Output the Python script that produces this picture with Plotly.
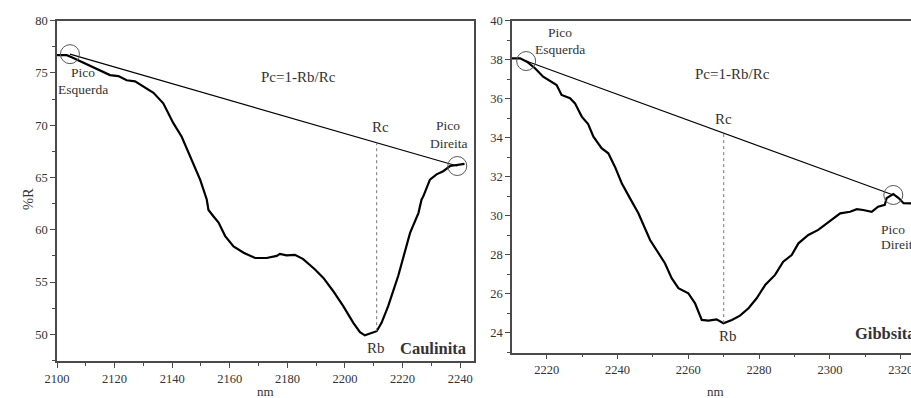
import numpy as np
import plotly.graph_objects as go

# ---------------- data: Caulinita (left panel) ----------------
caul_nm = [2100, 2103.4, 2105.1, 2109.1, 2114.9, 2118.4, 2121.3, 2124.2, 2127.1, 2130, 2133.5,
           2136.9, 2140.4, 2143.3, 2146.2, 2149.7, 2152, 2152.6, 2154.3, 2156.1, 2158.4, 2161.3,
           2164.8, 2168.8, 2172.8, 2176.3, 2177.4, 2179.7, 2182.6, 2185.5, 2189.6, 2192.5, 2196,
           2199.4, 2202.9, 2205.2, 2206.9, 2208.7, 2211, 2212.7, 2215, 2218.5, 2222.6, 2225.5,
           2226.6, 2227.2, 2229.5, 2231.8, 2234.1, 2236.5, 2238.8, 2241.5]
caul_r = [76.7, 76.7, 76.5, 76.0, 75.3, 74.8, 74.7, 74.3, 74.2, 73.7, 73.1,
          72.1, 70.2, 68.9, 67.0, 64.8, 62.9, 61.9, 61.3, 60.7, 59.4, 58.4,
          57.8, 57.3, 57.3, 57.5, 57.7, 57.55, 57.6, 57.2, 56.2, 55.4, 54.1,
          52.7, 51.1, 50.2, 49.9, 50.1, 50.3, 51.1, 52.7, 55.6, 59.7, 61.6,
          62.9, 63.2, 64.8, 65.3, 65.6, 66.1, 66.2, 66.3]
caul_peaks_nm = [2104.5, 2239.0]
caul_peaks_r = [76.8, 66.1]
caul_rc_nm = 2211.0

# ---------------- data: Gibbsita (right panel) ----------------
gibb_nm = [2210.1, 2212.5, 2214.4, 2216.7, 2219.0, 2221.4, 2222.8, 2224.2, 2226.6, 2228.0,
           2229.9, 2231.7, 2233.2, 2235.5, 2237.4, 2239.3, 2241.2, 2243.5, 2244.0, 2245.9,
           2249.2, 2253.4, 2255.3, 2257.2, 2260, 2261.9, 2263.8, 2265.7, 2268.0, 2269.9,
           2272.3, 2274.6, 2277.0, 2279.3, 2281.7, 2284.5, 2286.8, 2289.2, 2291.1, 2293.9,
           2296.7, 2299.6, 2302.9, 2305.7, 2307.6, 2309.4, 2311.8, 2313.6, 2315.5, 2316,
           2317.9, 2319.4, 2320.8, 2323.5]
gibb_r = [38.07, 38.07, 37.9, 37.56, 37.13, 36.87, 36.7, 36.19, 36.02, 35.76,
          35.08, 34.7, 34.05, 33.46, 33.2, 32.5, 31.66, 30.9, 30.72, 30.12,
          28.75, 27.56, 26.79, 26.28, 26.02, 25.5, 24.65, 24.62, 24.68, 24.48,
          24.65, 24.87, 25.25, 25.76, 26.44, 26.96, 27.64, 27.98, 28.58, 29.01,
          29.27, 29.69, 30.12, 30.2, 30.33, 30.29, 30.2, 30.46, 30.55, 30.9,
          31.11, 30.9, 30.64, 30.62]
gibb_peaks_nm = [2214.2, 2317.9]
gibb_peaks_r = [37.93, 31.06]
gibb_rc_nm = 2270.0

# tick values
caul_xticks = [2100, 2120, 2140, 2160, 2180, 2200, 2220, 2240]
caul_yticks = [50, 55, 60, 65, 70, 75, 80]
gibb_xticks = [2220, 2240, 2260, 2280, 2300, 2320]
gibb_yticks = [24, 26, 28, 30, 32, 34, 36, 38, 40]

FONT = "Liberation Serif"
W, H = 911, 398
AX = "#4a4a4a"
TXT = "#333333"

fig = go.Figure()


def add_panel(xa, ya, nm, r, pk_nm, pk_r, rc_nm):
    fig.add_trace(go.Scatter(x=nm, y=r, mode="lines", xaxis=xa, yaxis=ya,
                             line=dict(color="black", width=2.2), showlegend=False,
                             hoverinfo="skip"))
    fig.add_trace(go.Scatter(x=pk_nm, y=pk_r, mode="lines", xaxis=xa, yaxis=ya,
                             line=dict(color="black", width=1.1), showlegend=False,
                             hoverinfo="skip"))
    rc_top = float(np.interp(rc_nm, pk_nm, pk_r))
    rb = float(np.interp(rc_nm, nm, r))
    fig.add_trace(go.Scatter(x=[rc_nm, rc_nm], y=[rb, rc_top], mode="lines", xaxis=xa,
                             yaxis=ya, line=dict(color="#777777", width=1, dash="dot"),
                             showlegend=False, hoverinfo="skip"))
    fig.add_trace(go.Scatter(x=pk_nm, y=pk_r, mode="markers", xaxis=xa, yaxis=ya,
                             marker=dict(symbol="circle-open", size=19, color="#555555",
                                         line=dict(color="#555555", width=1)),
                             showlegend=False, hoverinfo="skip", cliponaxis=False))


add_panel("x", "y", caul_nm, caul_r, caul_peaks_nm, caul_peaks_r, caul_rc_nm)
add_panel("x2", "y2", gibb_nm, gibb_r, gibb_peaks_nm, gibb_peaks_r, gibb_rc_nm)

axis_common = dict(showline=True, linecolor=AX, linewidth=1.5, ticks="outside",
                   ticklen=5, tickwidth=1.3, tickcolor=AX, showgrid=False, zeroline=False,
                   automargin=False,
                   tickfont=dict(family=FONT, size=12.5, color=TXT),
                   minor=dict(ticks="outside", ticklen=3, tickwidth=1.1, tickcolor=AX))

fig.update_layout(
    width=W, height=H,
    margin=dict(l=0, r=0, t=0, b=0, autoexpand=False),
    paper_bgcolor="white", plot_bgcolor="white",
    showlegend=False,
    xaxis=dict(domain=[57 / W, 474 / W], range=[2100, 2244.8], tickvals=caul_xticks,
               mirror=True, anchor="y", **{**axis_common, "minor": dict(
                   axis_common["minor"], dtick=10, tick0=2100)}),
    yaxis=dict(domain=[1 - 361 / H, 1 - 20.7 / H], range=[47.45, 80], tickvals=caul_yticks,
               mirror=True, anchor="x", **{**axis_common, "minor": dict(
                   axis_common["minor"], dtick=2.5, tick0=50)}),
    xaxis2=dict(domain=[512 / W, 1.0], range=[2210.2, 2322.9], tickvals=gibb_xticks,
                mirror=True, anchor="y2", ticklabeloverflow="allow",
                **{**axis_common, "minor": dict(axis_common["minor"], dtick=10, tick0=2210)}),
    yaxis2=dict(domain=[1 - 352.7 / H, 1 - 20.7 / H], range=[22.97, 40],
                tickvals=gibb_yticks, mirror=False, anchor="x2",
                **{**axis_common, "minor": dict(axis_common["minor"], dtick=1, tick0=23)}),
)


def ann(text, px, py, size=14, bold=False, xanchor="center"):
    fig.add_annotation(text=f"<b>{text}</b>" if bold else text, x=px / W, y=1 - py / H,
                       xref="paper", yref="paper", showarrow=False,
                       font=dict(family=FONT, size=size, color=TXT),
                       xanchor=xanchor, yanchor="middle", align="center")


# left panel labels
ann("Pico", 83, 72, 13.5)
ann("Esquerda", 83, 89, 13.5)
ann("Pc=1-Rb/Rc", 298, 77, 15)
ann("Rc", 380, 127, 15)
ann("Pico", 448, 126, 13.5)
ann("Direita", 448, 143, 13.5)
ann("Rb", 376, 348, 15)
ann("Caulinita", 398, 348, 16.5, bold=True, xanchor="left")
ann("nm", 265, 391, 13)
fig.add_annotation(text="%R", x=18 / W, y=1 - 199 / H, xref="paper", yref="paper",
                   showarrow=False, textangle=-90,
                   font=dict(family=FONT, size=14.5, color=TXT))

# right panel labels
ann("Pico", 560, 32, 13.5)
ann("Esquerda", 560, 49, 13.5)
ann("Pc=1-Rb/Rc", 732, 74, 15)
ann("Rc", 723, 119, 15)
ann("Pico", 893, 230, 13.5)
ann("Direita", 879, 244, 13.5, xanchor="left")
ann("Rb", 728, 336, 15)
ann("Gibbsita", 853, 333, 16.5, bold=True, xanchor="left")
ann("nm", 715, 391, 13)

fig.write_html("out.html")
